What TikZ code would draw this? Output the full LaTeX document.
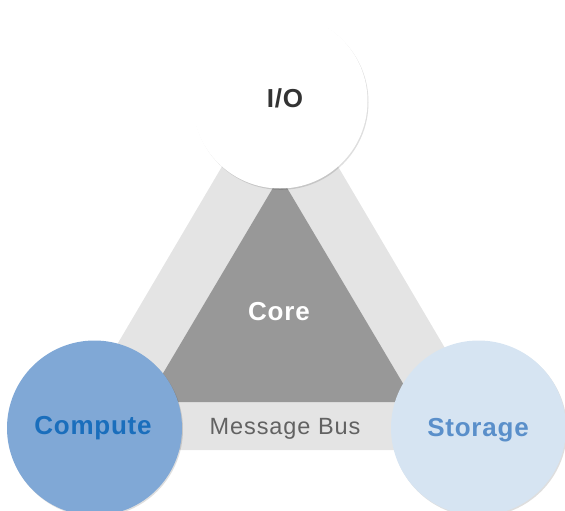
\documentclass[tikz,border=0pt]{standalone}
\usepackage{fontspec}
\setmainfont{Liberation Sans}
\usetikzlibrary{shadows}
\definecolor{bandgray}{HTML}{E4E4E4}
\definecolor{coregray}{HTML}{989898}
\definecolor{computefill}{HTML}{80A8D6}
\definecolor{computetext}{HTML}{1A6EBC}
\definecolor{storagefill}{HTML}{D6E4F2}
\definecolor{storagetext}{HTML}{5A8FCA}
\definecolor{iotext}{HTML}{333333}
\definecolor{bustext}{HTML}{626262}
\tikzset{
  hub/.style={circle, minimum size=175pt, inner sep=0pt,
    drop shadow={shadow xshift=1pt, shadow yshift=-1.3pt, opacity=0.13, fill=black}},
  hublabel/.style={anchor=base, inner sep=0pt,
    font=\fontsize{26}{28}\selectfont\bfseries\addfontfeature{LetterSpace=3}},
}
\begin{document}
\begin{tikzpicture}[x=1pt,y=-1pt]
\useasboundingbox (0,0) rectangle (565,511);
\clip (0,0) rectangle (565,511);
% outer band triangle
\coordinate (oA) at (280,68);
\coordinate (oB) at (55,450);
\coordinate (oC) at (505,450);
\fill[bandgray] (oA) -- (oB) -- (oC) -- cycle;
% inner core triangle
\coordinate (iA) at (280,176);
\coordinate (iB) at (146,402);
\coordinate (iC) at (414,402);
\fill[coregray] (iA) -- (iB) -- (iC) -- cycle;
\node[hublabel, text=white] (core) at (279,320) {Core};
\node[anchor=base, inner sep=0pt, text=bustext,
  font=\fontsize{23.5}{26}\selectfont\addfontfeature{LetterSpace=4}] (bus) at (285,434) {Message Bus};
% hubs
\node[hub, fill=white] (io) at (280,101) {};
\node[hublabel, text=iotext] (iolabel) at (285,107.5) {I/O};
\node[hub, fill=computefill] (compute) at (94.5,428) {};
\node[hublabel, text=computetext] (computelabel) at (93,434) {Compute};
\node[hub, fill=storagefill] (storage) at (478.5,428) {};
\node[hublabel, text=storagetext] (storagelabel) at (478,436.5) {Storage};
\end{tikzpicture}
\end{document}
